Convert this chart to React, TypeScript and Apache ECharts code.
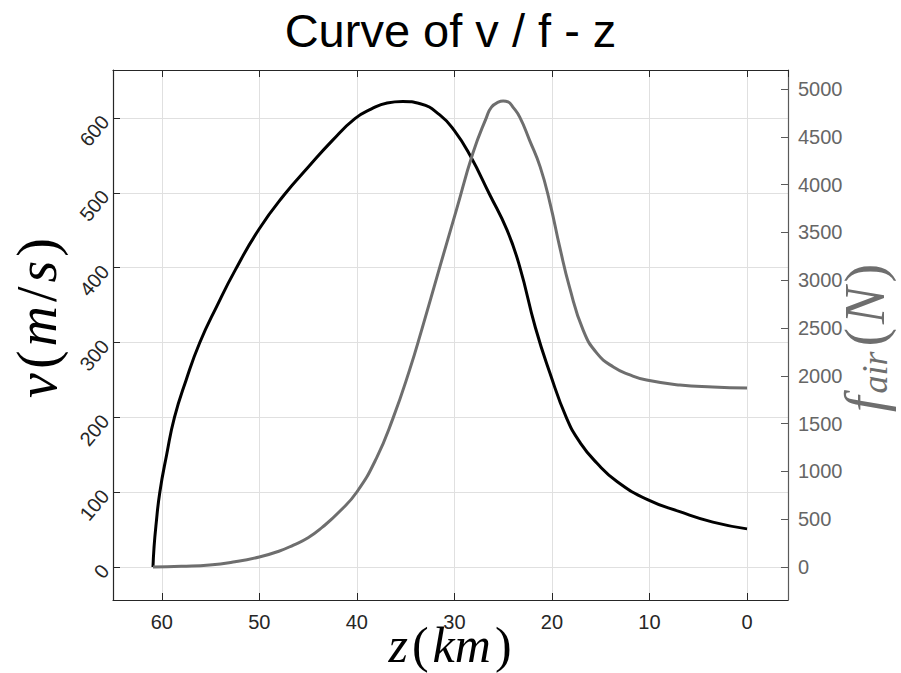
import React, { useEffect, useRef } from "react";
import * as echarts from "echarts";

// altitude z (km) and velocity v (m/s)
const vZ = [60.9, 60.8, 60.6, 60.2, 59.5, 58.7, 57.5, 56.1, 54.3, 52.5, 50, 47.4, 45, 42.5, 40.2, 38.5, 36.9, 35.3, 33.5, 31.5, 30, 28.4, 26.4, 24.6, 23.3, 21.7, 20.2, 18.5, 17.1, 15.4, 13.3, 10.2, 6.9, 3.5, 0];
const vVal = [0, 25, 55, 100, 150, 200, 250, 300, 350, 396, 452, 498, 534, 570, 599, 612, 620, 622, 619, 604, 583, 550, 498, 450, 401, 320, 259, 199, 166, 139, 114, 90, 74, 60, 51];

// altitude z (km) and air force f_air (N)
const fZ = [60.9, 58, 55.1, 52.5, 50, 48, 46.5, 45, 43.5, 41.8, 40, 38, 36.3, 34.6, 33.3, 31.5, 29.8, 28.1, 26.7, 26.2, 25.5, 25, 24.5, 24, 23.3, 22.3, 21.2, 20.2, 19.2, 18.2, 16.8, 15.4, 13.7, 12, 10.3, 6.9, 3.5, 0];
const fVal = [0, 8, 21, 55, 105, 165, 230, 306, 420, 578, 785, 1137, 1555, 2060, 2500, 3138, 3734, 4331, 4707, 4812, 4864, 4875, 4866, 4812, 4707, 4467, 4184, 3808, 3347, 2929, 2479, 2238, 2092, 2010, 1956, 1904, 1883, 1872];

const titleText = "Curve of v / f - z";

const DARK = "#262626";
const GRAY = "#6e6e6e";

export default function App() {
  const ref = useRef<HTMLDivElement>(null);
  useEffect(() => {
    if (!ref.current) return;
    const chart = echarts.init(ref.current, null, { renderer: "svg" });
    const tickFont = { fontFamily: "Liberation Sans", fontSize: 20 };
    const mk = (size: number, italic: boolean, fill: string, pad = 0, lh = 62) => ({
      fontFamily: "Liberation Serif",
      fontStyle: italic ? "italic" : "normal",
      fontSize: size,
      lineHeight: lh,
      verticalAlign: "bottom",
      padding: [0, pad, 0, pad],
      fill,
    });
    const xCommon = {
      type: "value",
      inverse: true,
      min: -4.2,
      max: 65,
      splitNumber: 7,
      minInterval: 10,
      maxInterval: 10,
    };
    const option: any = {
      animation: false,
      backgroundColor: "#ffffff",
      title: {
        text: titleText,
        left: "center",
        top: 2,
        textStyle: { fontFamily: "Liberation Sans", fontSize: 47, fontWeight: "normal", color: "#000" },
      },
      grid: { left: 113, right: 113, top: 70, bottom: 73, containLabel: false },
      xAxis: [
        {
          ...xCommon,
          position: "bottom",
          axisLine: { show: true, onZero: false, lineStyle: { color: DARK, width: 1.2 } },
          axisTick: { show: true, inside: true, length: 7, lineStyle: { color: DARK } },
          axisLabel: { ...tickFont, color: DARK, margin: 12, showMinLabel: false, showMaxLabel: false },
          splitLine: { show: true, lineStyle: { color: "#e0e0e0", width: 1 } },
        },
        {
          ...xCommon,
          position: "top",
          axisLine: { show: true, onZero: false, lineStyle: { color: DARK, width: 1.2 } },
          axisTick: { show: true, inside: true, length: 7, lineStyle: { color: DARK } },
          axisLabel: { show: false },
          splitLine: { show: false },
        },
      ],
      yAxis: [
        {
          type: "value",
          min: -44,
          max: 664,
          splitNumber: 7,
          minInterval: 100,
          maxInterval: 100,
          position: "left",
          axisLine: { show: true, onZero: false, lineStyle: { color: DARK, width: 1.2 } },
          axisTick: { show: true, inside: true, length: 7, lineStyle: { color: DARK } },
          axisLabel: { ...tickFont, color: DARK, rotate: 50, margin: 8, showMinLabel: false, showMaxLabel: false },
          splitLine: { show: true, lineStyle: { color: "#e0e0e0", width: 1 } },
        },
        {
          type: "value",
          min: -345,
          max: 5200,
          splitNumber: 11,
          minInterval: 500,
          maxInterval: 500,
          position: "right",
          axisLine: { show: true, onZero: false, lineStyle: { color: "#5a5a5a", width: 1.2 } },
          axisTick: { show: true, inside: true, length: 7, lineStyle: { color: "#5a5a5a" } },
          axisLabel: {
            ...tickFont,
            color: "#666666",
            margin: 10,
            showMinLabel: false,
            showMaxLabel: false,
            formatter: (v: number) => String(Math.round(v)),
          },
          splitLine: { show: false },
        },
      ],
      series: [
        {
          name: "v",
          type: "line",
          xAxisIndex: 0,
          yAxisIndex: 0,
          data: vZ.map((z, i) => [z, vVal[i]]),
          showSymbol: false,
          smooth: 0.5,
          lineStyle: { color: "#000000", width: 3 },
          itemStyle: { color: "#000000" },
        },
        {
          name: "f",
          type: "line",
          xAxisIndex: 0,
          yAxisIndex: 1,
          data: fZ.map((z, i) => [z, fVal[i]]),
          showSymbol: false,
          smooth: 0.5,
          lineStyle: { color: GRAY, width: 3 },
          itemStyle: { color: GRAY },
        },
      ],
      graphic: [
        {
          type: "text",
          x: 34,
          y: 318,
          rotation: Math.PI / 2,
          style: {
            text: "{i|v}{r|(}{i|m}{r|/}{i|s}{r|)}",
            align: "center",
            verticalAlign: "middle",
            fill: "#000",
            rich: { i: mk(56, true, "#000", 2), r: mk(56, false, "#000", 2) },
          },
        },
        {
          type: "text",
          x: 450,
          y: 648,
          style: {
            text: "{i|z}{r|(}{i|km}{r|)}",
            align: "center",
            verticalAlign: "middle",
            fill: "#000",
            rich: { i: mk(50, true, "#000", 2, 44), r: mk(50, false, "#000", 2, 44) },
          },
        },
        {
          type: "text",
          x: 862,
          y: 338,
          rotation: Math.PI / 2,
          style: {
            text: "{i|f}{s|air}{r|(}{i|N}{r|)}",
            align: "center",
            verticalAlign: "middle",
            fill: GRAY,
            rich: {
              i: mk(56, true, GRAY, 2),
              r: mk(56, false, GRAY, 2),
              s: {
                fontFamily: "Liberation Serif",
                fontStyle: "italic",
                fontSize: 36,
                lineHeight: 22,
                verticalAlign: "bottom",
                padding: [0, 3, 0, 1],
                fill: GRAY,
              },
            },
          },
        },
      ],
    };
    chart.setOption(option);
    return () => chart.dispose();
  }, []);
  return (
    <div
      ref={ref}
      style={{ position: "fixed", left: 0, top: 0, width: 901, height: 673, background: "#fff" }}
    />
  );
}
